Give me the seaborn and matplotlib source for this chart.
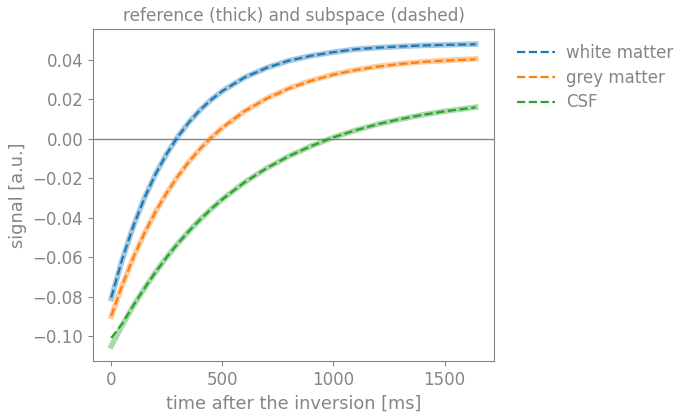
import seaborn as sns
import matplotlib.pyplot as plt
import pandas as pd

# time points [ms]
time = [0, 50, 100, 150, 200, 250, 300, 350, 400, 450, 500, 600, 700, 800,
        900, 1000, 1100, 1200, 1300, 1400, 1500, 1640]

# reference signals (thick)
wm_ref = [-0.0810, -0.0610, -0.0441, -0.0298, -0.0177, -0.0075, 0.0012, 0.0085,
          0.0147, 0.0199, 0.0243, 0.0312, 0.0361, 0.0397, 0.0422, 0.0440,
          0.0455, 0.0463, 0.0469, 0.0474, 0.0477, 0.0481]
gm_ref = [-0.0900, -0.0741, -0.0600, -0.0477, -0.0368, -0.0273, -0.0189, -0.0115,
          -0.0050, 0.0007, 0.0057, 0.0141, 0.0206, 0.0257, 0.0296, 0.0327,
          0.0350, 0.0368, 0.0381, 0.0391, 0.0398, 0.0406]
csf_ref = [-0.1050, -0.0944, -0.0846, -0.0757, -0.0675, -0.0599, -0.0530, -0.0467,
           -0.0409, -0.0355, -0.0306, -0.0220, -0.0148, -0.0087, -0.0036, 0.0008,
           0.0044, 0.0075, 0.0100, 0.0122, 0.0140, 0.0161]

# subspace signals (dashed)
wm_sub = [-0.0805, -0.0608, -0.0441, -0.0298, -0.0177, -0.0075, 0.0012, 0.0085,
          0.0147, 0.0199, 0.0243, 0.0312, 0.0361, 0.0397, 0.0422, 0.0440,
          0.0455, 0.0463, 0.0469, 0.0474, 0.0477, 0.0480]
gm_sub = [-0.0898, -0.0740, -0.0600, -0.0477, -0.0368, -0.0273, -0.0189, -0.0115,
          -0.0050, 0.0007, 0.0057, 0.0141, 0.0205, 0.0256, 0.0295, 0.0326,
          0.0349, 0.0367, 0.0380, 0.0390, 0.0397, 0.0404]
csf_sub = [-0.1010, -0.0936, -0.0844, -0.0757, -0.0675, -0.0599, -0.0530, -0.0467,
           -0.0409, -0.0355, -0.0306, -0.0220, -0.0148, -0.0087, -0.0036, 0.0008,
           0.0044, 0.0075, 0.0100, 0.0122, 0.0140, 0.0160]

tissues = ['white matter', 'grey matter', 'CSF']
ref_vals = [wm_ref, gm_ref, csf_ref]
sub_vals = [wm_sub, gm_sub, csf_sub]

grey = '#858585'
sns.set_style('ticks', {'axes.edgecolor': grey, 'xtick.color': grey, 'ytick.color': grey,
                        'text.color': grey, 'axes.labelcolor': grey})
plt.rcParams['font.family'] = ['DejaVu Sans']

colors = sns.color_palette('tab10', 3)

fig, ax = plt.subplots(figsize=(6.86, 4.18), dpi=100)
fig.subplots_adjust(left=0.1356, right=0.720, top=0.9306, bottom=0.1364)

ax.axhline(0, color=grey, lw=1)

for name, r, s, c in zip(tissues, ref_vals, sub_vals, colors):
    df = pd.DataFrame({'t': time, 'ref': r, 'sub': s})
    # thick light line = reference, dashed line on top = subspace
    sns.lineplot(data=df, x='t', y='ref', ax=ax, color=c, lw=4, alpha=0.4,
                 solid_capstyle='projecting')
    sns.lineplot(data=df, x='t', y='sub', ax=ax, color=c, lw=1.6, ls='--', label=name)

ax.set_title('reference (thick) and subspace (dashed)', fontsize=12.2, color=grey)
ax.set_xlabel('time after the inversion [ms]', fontsize=12.8)
ax.set_ylabel('signal [a.u.]', fontsize=12.8)
ax.tick_params(labelsize=12, colors=grey)
ax.set_xticks([0, 500, 1000, 1500])

ax.legend(loc='upper left', bbox_to_anchor=(1.02, 1.0), frameon=False, fontsize=12,
          labelcolor=grey, labelspacing=0.4, handlelength=2.3, handletextpad=0.65)

fig.savefig('out.png', dpi=100)
